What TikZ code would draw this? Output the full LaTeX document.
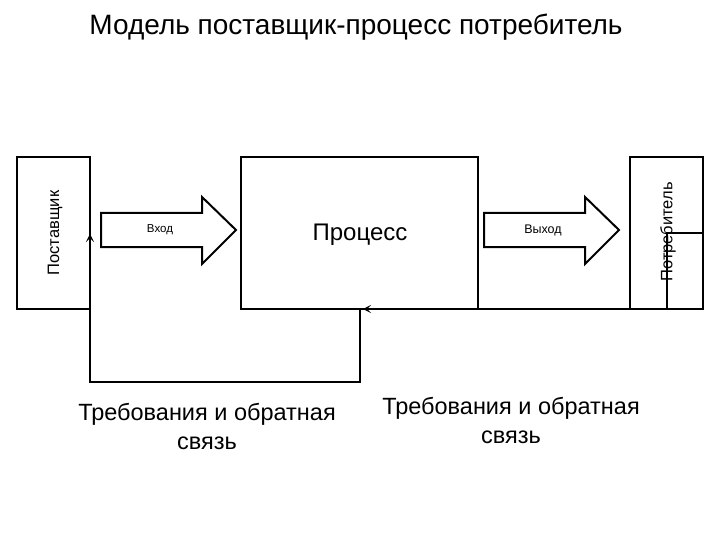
\documentclass[tikz,border=0pt]{standalone}
\usepackage{fontspec}
\setmainfont{Liberation Sans}
\usetikzlibrary{arrows.meta}
\begin{document}
\begin{tikzpicture}[x=1pt,y=-1pt,
  box/.style={draw,line width=2pt},
  blockarrow/.style={draw,line width=2pt,fill=white},
  conn/.style={draw,line width=1.6pt},
  lbl/.style={font=\fontsize{23.5}{29}\selectfont,align=center}]
\useasboundingbox (0,0) rectangle (720,540);
\node[font=\fontsize{28}{32}\selectfont] (title) at (356,27) {Модель поставщик-процесс потребитель};
% boxes
\draw[box] (17,157) rectangle (90,309);
\node[rotate=90,font=\fontsize{16.5}{19}\selectfont] (sup) at (55,233) {Поставщик};
\draw[box] (241,157) rectangle (478,309);
\node[font=\fontsize{24}{28}\selectfont] (proc) at (360,235) {Процесс};
\draw[box] (630,157) rectangle (703,309);
\node[rotate=90,font=\fontsize{16.5}{19}\selectfont] (cons) at (668,232) {Потребитель};
% block arrows
\draw[blockarrow] (101,213) -- (202,213) -- (202,197) -- (236,230) -- (202,264) -- (202,247) -- (101,247) -- cycle;
\node[font=\fontsize{11.5}{13}\selectfont] (in) at (160,230) {Вход};
\draw[blockarrow] (484,213) -- (585,213) -- (585,197) -- (619,230) -- (585,264) -- (585,247) -- (484,247) -- cycle;
\node[font=\fontsize{12.5}{14}\selectfont] (out) at (543,230) {Выход};
% feedback connectors
\coordinate (c1) at (703,233);
\coordinate (c2) at (667,233);
\coordinate (c3) at (667,309);
\coordinate (p1) at (363,309);
\draw[conn,-{Stealth[length=8pt,width=8pt,inset=4pt]}] (c1) -- (c2) -- (c3) -- (p1);
\coordinate (p2) at (360,310);
\coordinate (p3) at (360,382);
\coordinate (s1) at (90,382);
\coordinate (s2) at (90,234);
\draw[conn,-{Stealth[length=8pt,width=8pt,inset=4pt]}] (p2) -- (p3) -- (s1) -- (s2);
% labels
\node[lbl] (fb1) at (207,426) {Требования и обратная\\связь};
\node[lbl] (fb2) at (511,420) {Требования и обратная\\связь};
\end{tikzpicture}
\end{document}
